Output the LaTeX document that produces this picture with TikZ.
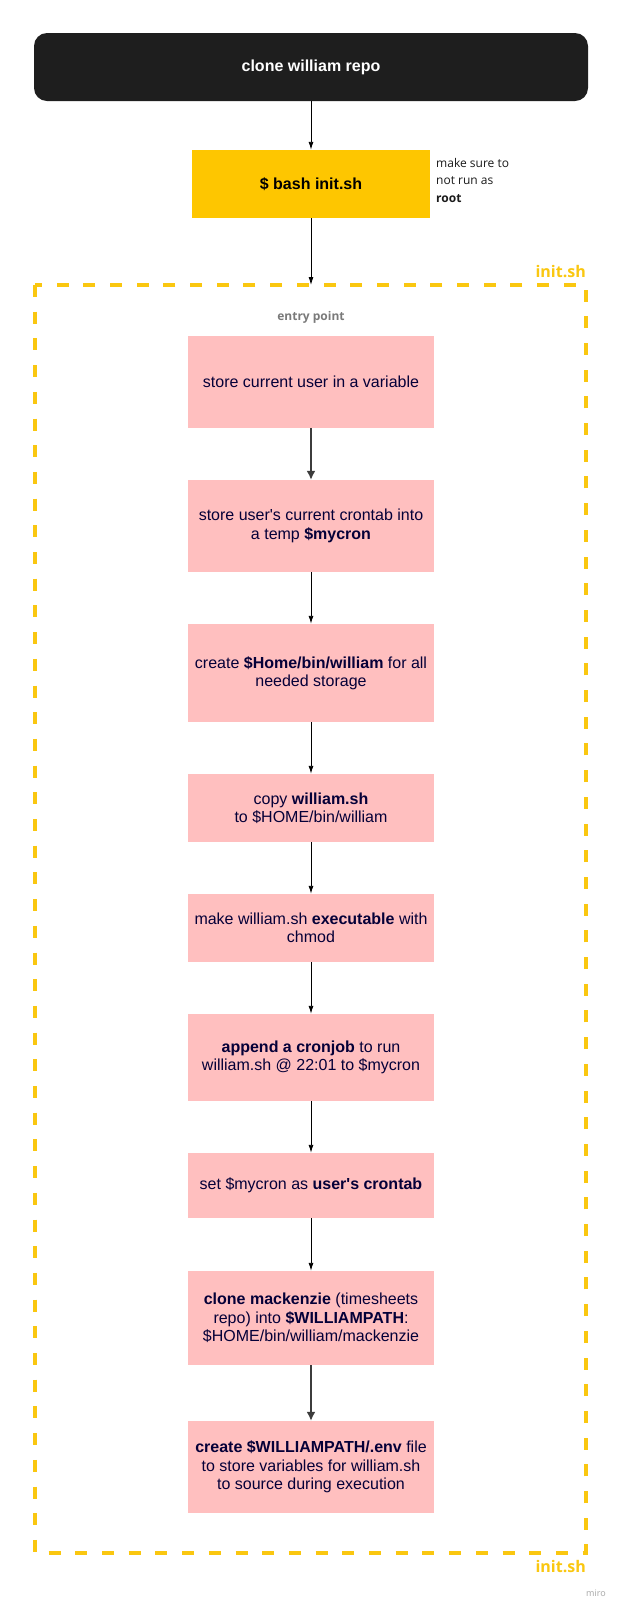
\documentclass[tikz,border=0pt]{standalone}
\usepackage{fontspec}
\setmainfont[Ligatures=TeXOff]{Liberation Sans}
\newfontfamily\osans{Open Sans}
\usetikzlibrary{arrows.meta}
\definecolor{miroblack}{HTML}{1E1E1E}
\definecolor{miroyellow}{HTML}{FEC600}
\definecolor{dashyellow}{HTML}{FAC710}
\definecolor{miropink}{HTML}{FFBFBF}
\definecolor{mironavy}{HTML}{050038}
\definecolor{notegray}{HTML}{1A1A1A}
\definecolor{entrygray}{HTML}{7A7A7A}
\definecolor{arrowgray}{HTML}{3C3C3C}
\tikzset{
  pinkbox/.style={rectangle, fill=miropink, draw=none, minimum width=246pt,
    align=center, text=mironavy, font=\fontsize{16}{18.5}\selectfont, inner sep=0pt},
  thinarrow/.style={draw=black, line width=0.9pt, -{Latex[length=8pt,width=5pt]}},
  thickarrow/.style={draw=arrowgray, line width=1.7pt, -{Latex[length=9pt,width=9pt]}},
  framelabel/.style={text=dashyellow, font=\osans\bfseries\fontsize{16}{18}\selectfont, anchor=east, inner sep=0pt}
}
\begin{document}
\begin{tikzpicture}[x=1pt,y=-1pt]
\useasboundingbox[fill=white] (0,0) rectangle (620,1610);

% dashed frame
\draw[dashyellow, line width=3.5pt, dash pattern=on 12pt off 14.7pt] (35,285) rectangle (586,1553);
\node[framelabel] (toplabel) at (586,272) {init.sh};
\node[framelabel] (botlabel) at (586,1567) {init.sh};
\coordinate (frametop) at (311,285);

% top nodes
\node[rectangle, rounded corners=13pt, fill=miroblack, minimum width=554pt, minimum height=68pt,
  text=white, font=\bfseries\fontsize{16}{18}\selectfont] (clone) at (311,67) {clone william repo};
\node[rectangle, fill=miroyellow, minimum width=238pt, minimum height=68pt,
  text=black, font=\bfseries\fontsize{16}{18}\selectfont] (bash) at (311,184) {\$ bash init.sh};
\node[anchor=north west, align=left, inner sep=0pt, text=notegray,
  font=\osans\fontsize{12}{17.5}\selectfont] (note) at (436,158) {make sure to\\not run as\\\textbf{root}};

\node[text=entrygray, font=\osans\bfseries\fontsize{12}{14}\selectfont] (entry) at (311,317) {entry point};

% steps
\node[pinkbox, minimum height=92pt] (s1) at (311,382) {store current user in a variable};
\node[pinkbox, minimum height=92pt] (s2) at (311,526) {store user's current crontab into\\a temp \textbf{\$mycron}};
\node[pinkbox, minimum height=98pt] (s3) at (311,673) {create \textbf{\$Home/bin/william} for all\\needed storage};
\node[pinkbox, minimum height=68pt] (s4) at (311,808) {copy \textbf{william.sh}\\to \$HOME/bin/william};
\node[pinkbox, minimum height=68pt] (s5) at (311,928) {make william.sh \textbf{executable} with\\chmod};
\node[pinkbox, minimum height=87pt] (s6) at (311,1057.5) {\textbf{append a cronjob} to run\\william.sh @ 22:01 to \$mycron};
\node[pinkbox, minimum height=65pt] (s7) at (311,1185.5) {set \$mycron as \textbf{user's crontab}};
\node[pinkbox, minimum height=94pt] (s8) at (311,1318) {\textbf{clone mackenzie} (timesheets\\repo) into \textbf{\$WILLIAMPATH}:\\\$HOME/bin/william/mackenzie};
\node[pinkbox, minimum height=92pt] (s9) at (311,1467) {\textbf{create \$WILLIAMPATH/.env} file\\to store variables for william.sh\\to source during execution};

\node[text=black!35, font=\osans\fontsize{9}{10}\selectfont, anchor=east, inner sep=0pt] (miro) at (606,1593) {miro};

% connectors
\draw[thinarrow] (clone.south) -- (bash.north);
\draw[thinarrow] (bash.south) -- (frametop);
\draw[thickarrow] (s1.south) -- (s2.north);
\draw[thinarrow] (s2.south) -- (s3.north);
\draw[thinarrow] (s3.south) -- (s4.north);
\draw[thinarrow] (s4.south) -- (s5.north);
\draw[thinarrow] (s5.south) -- (s6.north);
\draw[thinarrow] (s6.south) -- (s7.north);
\draw[thinarrow] (s7.south) -- (s8.north);
\draw[thickarrow] (s8.south) -- (s9.north);
\end{tikzpicture}
\end{document}
